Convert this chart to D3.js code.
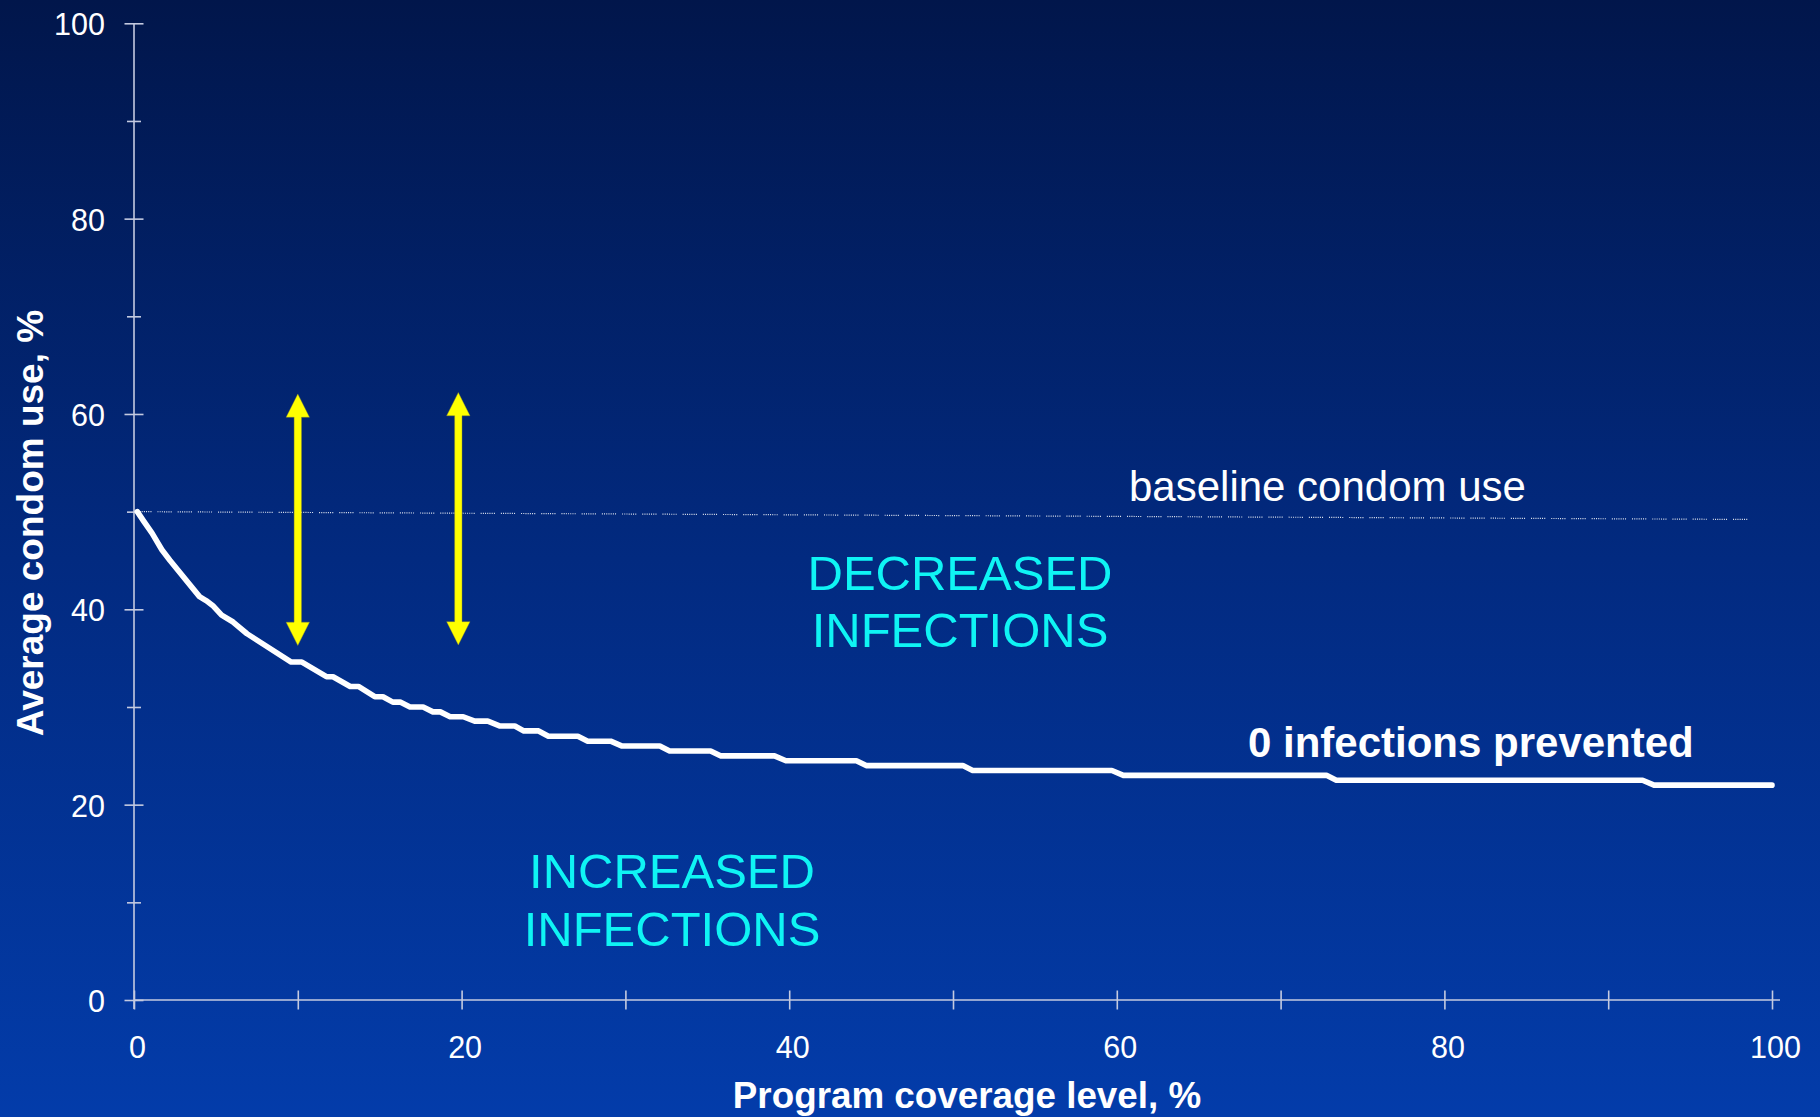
<!DOCTYPE html>
<html>
<head>
<meta charset="utf-8">
<script src="https://cdn.jsdelivr.net/npm/d3@7"></script>
<style>
  html, body { margin: 0; padding: 0; overflow: hidden; }
  body { width: 1820px; height: 1117px; }
  svg { display: block; font-family: "Liberation Sans", Arial, Helvetica, sans-serif; }
</style>
</head>
<body>
<svg id="chart" width="1820" height="1117"></svg>
<script>
// ---- data ----
const yTicks = [0, 20, 40, 60, 80, 100];
const yMinorTicks = [10, 30, 50, 70, 90];
const xTicks = [0, 20, 40, 60, 80, 100];
const xMinorTicks = [10, 30, 50, 70, 90];

// curve "0 infections prevented": coverage %, condom use %
const coverage = [0.2, 0.6, 1.1, 1.7, 2.2, 4.0, 4.4, 4.8, 5.35, 6.05, 6.9, 9.6, 10.25, 11.75, 12.15, 13.2, 13.7,
  14.7, 15.2, 15.8, 16.25, 16.85, 17.65, 18.25, 18.7, 19.3, 20.1, 20.8, 21.6, 22.35, 23.25, 23.8, 24.7, 25.3, 27.1,
  27.7, 29.1, 29.8, 32.1, 32.7, 35.2, 35.8, 39.1, 39.8, 44.1, 44.7, 50.6, 51.2, 59.7, 60.4, 72.8, 73.4, 92.1, 92.8, 100];
const condomUse = [50.0, 49.0, 47.8, 46.1, 45.0, 41.3, 40.9, 40.4, 39.4, 38.7, 37.5, 34.6, 34.6, 33.1, 33.1, 32.1, 32.1,
  31.05, 31.05, 30.5, 30.5, 30.0, 30.0, 29.5, 29.5, 29.0, 29.0, 28.55, 28.55, 28.05, 28.05, 27.55, 27.55, 27.0, 27.0,
  26.5, 26.5, 26.0, 26.0, 25.5, 25.5, 25.0, 25.0, 24.5, 24.5, 24.0, 24.0, 23.5, 23.5, 23.0, 23.0, 22.5, 22.5, 22.0, 22.0];

// baseline condom use (dotted line)
const baselineX = [0.2, 98.8];
const baselineY = [50.0, 49.2];

// double-headed arrows: coverage, lower end, upper end
const arrowX = [10, 19.8];
const arrowLow = [36.3, 36.35];
const arrowHigh = [62.05, 62.2];

// ---- drawing ----
const svg = d3.select("#chart");
const W = 1820, H = 1117;

const defs = svg.append("defs");
const grad = defs.append("linearGradient").attr("id", "bg").attr("x1", 0).attr("y1", 0).attr("x2", 0).attr("y2", 1);
grad.append("stop").attr("offset", "0%").attr("stop-color", "#01164b");
grad.append("stop").attr("offset", "50%").attr("stop-color", "#022a80");
grad.append("stop").attr("offset", "100%").attr("stop-color", "#033caa");
svg.append("rect").attr("width", W).attr("height", H).attr("fill", "url(#bg)");

const x = d3.scaleLinear().domain([0, 100]).range([134, 1772]);
const y = d3.scaleLinear().domain([0, 100]).range([1000, 23.3]);

const axisColor = "#c4cae0";
const font = "Liberation Sans, Arial, sans-serif";

// Y axis
const yAxis = svg.append("g").attr("transform", `translate(${x(0)},0)`)
  .call(d3.axisLeft(y).tickValues(yTicks).tickSize(0).tickFormat(d3.format("d")));
yAxis.select(".domain").remove();
yAxis.selectAll(".tick text").attr("x", -29).attr("dy", "0.38em")
  .attr("fill", "#ffffff").attr("font-size", 30.5).attr("font-family", font);
yAxis.selectAll(".tick line").attr("x1", -9.5).attr("x2", 9.5).attr("stroke", axisColor).attr("stroke-width", 1.6);
const yMinor = svg.append("g").attr("transform", `translate(${x(0)},0)`)
  .call(d3.axisLeft(y).tickValues(yMinorTicks).tickSize(0).tickFormat(""));
yMinor.select(".domain").remove();
yMinor.selectAll(".tick line").attr("x1", -7).attr("x2", 7).attr("stroke", axisColor).attr("stroke-width", 1.6);

// X axis
const xAxis = svg.append("g").attr("transform", `translate(0,${y(0)})`)
  .call(d3.axisBottom(x).tickValues(xTicks).tickSize(0).tickFormat(d3.format("d")));
xAxis.select(".domain").remove();
xAxis.selectAll(".tick text").attr("y", 58).attr("dy", 0).attr("dx", 3)
  .attr("fill", "#ffffff").attr("font-size", 30.5).attr("font-family", font);
xAxis.selectAll(".tick line").attr("y1", -9.5).attr("y2", 9.5).attr("stroke", axisColor).attr("stroke-width", 1.6);
const xMinor = svg.append("g").attr("transform", `translate(0,${y(0)})`)
  .call(d3.axisBottom(x).tickValues(xMinorTicks).tickSize(0).tickFormat(""));
xMinor.select(".domain").remove();
xMinor.selectAll(".tick line").attr("y1", -9.5).attr("y2", 9.5).attr("stroke", axisColor).attr("stroke-width", 1.6);

// axis lines
svg.append("line").attr("x1", x(0)).attr("x2", x(0)).attr("y1", y(100)).attr("y2", y(0) + 9)
  .attr("stroke", axisColor).attr("stroke-width", 1.6);
svg.append("line").attr("x1", x(0)).attr("x2", x(100) + 8).attr("y1", y(0)).attr("y2", y(0))
  .attr("stroke", axisColor).attr("stroke-width", 1.6);

// baseline dotted line
const baseData = baselineX.map((v, i) => [v, baselineY[i]]);
svg.append("path").datum(baseData)
  .attr("d", d3.line().x(d => x(d[0])).y(d => y(d[1])))
  .attr("fill", "none").attr("stroke", "#ffffff").attr("stroke-opacity", 0.9).attr("stroke-width", 1.2)
  .attr("stroke-dasharray", "1,1.2,1,1.2,1,1.2,1,1.2,1,1.2,1,1.2,1,6");

// main curve
const curveData = coverage.map((v, i) => [v, condomUse[i]]);
svg.append("path").datum(curveData)
  .attr("d", d3.line().x(d => x(d[0])).y(d => y(d[1])))
  .attr("fill", "none").attr("stroke", "#ffffff").attr("stroke-width", 5.6)
  .attr("stroke-linejoin", "round").attr("stroke-linecap", "round");

// arrows
const arrows = arrowX.map((v, i) => ({ x: v, lo: arrowLow[i], hi: arrowHigh[i] }));
const shaftHalf = 3.7, headHalf = 11.7, headLen = 23.3;
svg.append("g").selectAll("path").data(arrows).join("path")
  .attr("d", d => {
    const cx = x(d.x), top = y(d.hi), bot = y(d.lo);
    return `M${cx},${top} L${cx + headHalf},${top + headLen} L${cx + shaftHalf},${top + headLen}
            L${cx + shaftHalf},${bot - headLen} L${cx + headHalf},${bot - headLen} L${cx},${bot}
            L${cx - headHalf},${bot - headLen} L${cx - shaftHalf},${bot - headLen} L${cx - shaftHalf},${top + headLen}
            L${cx - headHalf},${top + headLen} Z`;
  })
  .attr("fill", "#ffff00").attr("stroke", "#8a8a30").attr("stroke-width", 0.6).attr("stroke-opacity", 0.7);

// annotations
svg.append("text").attr("x", 1129).attr("y", 501).attr("fill", "#ffffff")
  .attr("font-size", 42).attr("font-family", font).text("baseline condom use");

const cyan = "#0ff4f4";
const dec = svg.append("text").attr("text-anchor", "middle").attr("fill", cyan).attr("font-size", 49).attr("font-family", font);
dec.append("tspan").attr("x", 960).attr("y", 590).text("DECREASED");
dec.append("tspan").attr("x", 960).attr("y", 647).text("INFECTIONS");

const inc = svg.append("text").attr("text-anchor", "middle").attr("fill", cyan).attr("font-size", 49).attr("font-family", font);
inc.append("tspan").attr("x", 672).attr("y", 888).text("INCREASED");
inc.append("tspan").attr("x", 672).attr("y", 946).text("INFECTIONS");

svg.append("text").attr("x", 1248).attr("y", 757).attr("fill", "#ffffff")
  .attr("font-size", 42).attr("font-weight", "bold").attr("font-family", font).text("0 infections prevented");

// axis titles
svg.append("text").attr("x", 967).attr("y", 1108).attr("text-anchor", "middle").attr("fill", "#ffffff")
  .attr("font-size", 36.8).attr("font-weight", "bold").attr("font-family", font).text("Program coverage level, %");
svg.append("text").attr("transform", "translate(43,523) rotate(-90)").attr("text-anchor", "middle").attr("fill", "#ffffff")
  .attr("font-size", 37).attr("font-weight", "bold").attr("font-family", font).text("Average condom use, %");
</script>
</body>
</html>
